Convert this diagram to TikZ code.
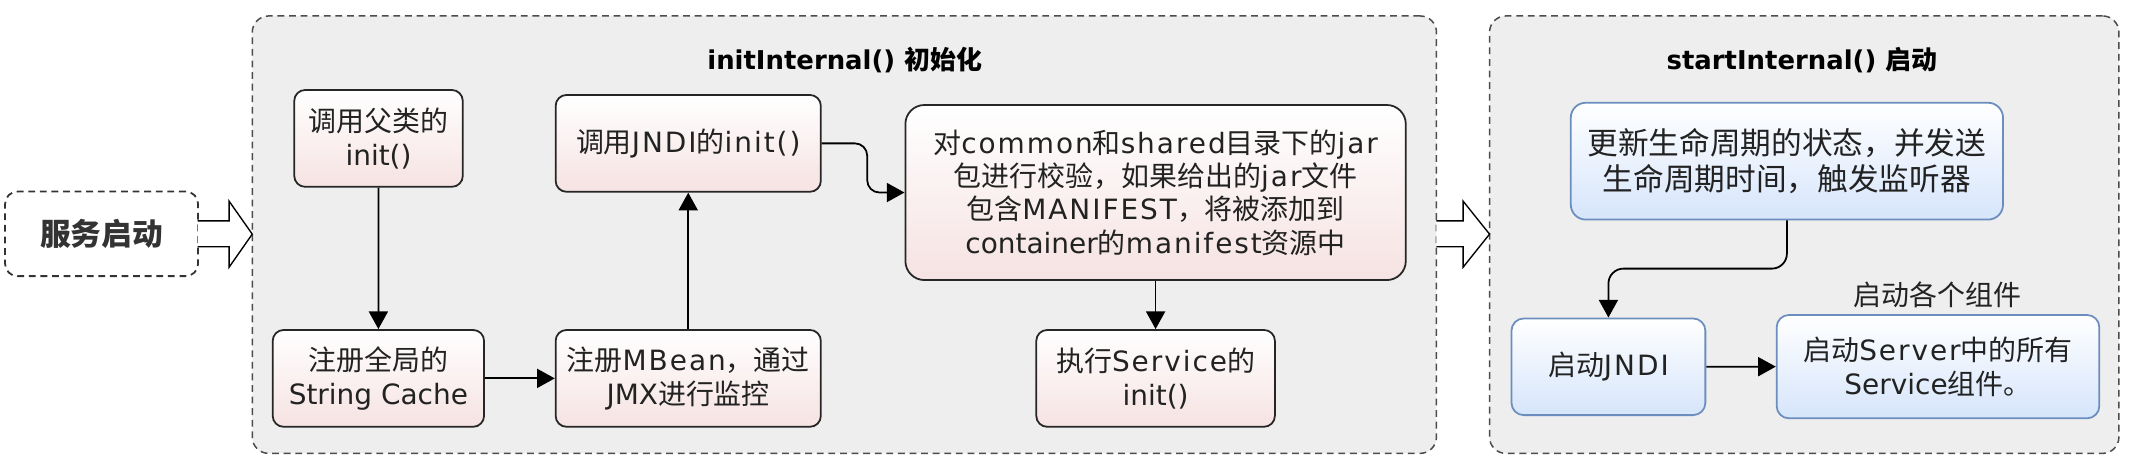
\documentclass[tikz,border=0pt]{standalone}
\usepackage{fontspec}
\setmainfont{DejaVu Sans}
\newfontfamily\cjkfam{Noto Sans CJK SC}
\newfontfamily\latfam[LetterSpace=7]{DejaVu Sans}
\newfontfamily\plainlat{DejaVu Sans}
\XeTeXinterchartokenstate=1
\newXeTeXintercharclass\mycjkcls
\newcount\mycc
\mycc="4E00 \loop\XeTeXcharclass\mycc=\mycjkcls \ifnum\mycc<"9FFF \advance\mycc by 1 \repeat
\mycc="3000 \loop\XeTeXcharclass\mycc=\mycjkcls \ifnum\mycc<"303F \advance\mycc by 1 \repeat
\mycc="FF00 \loop\XeTeXcharclass\mycc=\mycjkcls \ifnum\mycc<"FFEF \advance\mycc by 1 \repeat
\XeTeXinterchartoks 0 \mycjkcls = {\cjkfam}
\XeTeXinterchartoks 4095 \mycjkcls = {\cjkfam}
\XeTeXinterchartoks \mycjkcls 0 = {\latfam}
\XeTeXinterchartoks \mycjkcls 4095 = {\latfam}
\usetikzlibrary{arrows.meta}
\definecolor{pinkbot}{RGB}{246,226,226}
\definecolor{bluebot}{RGB}{214,229,251}
\definecolor{blueline}{RGB}{108,142,191}
\definecolor{groupfill}{RGB}{238,238,238}
\definecolor{txt}{RGB}{34,34,34}
\newcommand{\nodefnt}{\fontsize{20.5}{24.5}\selectfont}
\newcommand{\bigfnt}{\fontsize{22.5}{26}\selectfont}
\newcommand{\titlefnt}{\fontsize{19}{24}\selectfont\bfseries}
\begin{document}
\begin{tikzpicture}[x=1pt,y=-1pt,
  group/.style={draw=black!70, dash pattern=on 5pt off 3.5pt, line width=1.1pt,
    fill=groupfill, rounded corners=12pt, inner sep=0pt},
  startbox/.style={draw=black!80, dash pattern=on 5pt off 3.5pt, line width=1.3pt,
    fill=white, rounded corners=9pt, inner sep=0pt, font=\bigfnt\bfseries, text=black!80},
  pinkbox/.style={draw=black!85, line width=1.3pt, top color=white, bottom color=pinkbot,
    rounded corners=8pt, align=center, inner sep=0pt, font=\nodefnt, text=txt},
  bluebox/.style={draw=blueline, line width=1.3pt, top color=white, bottom color=bluebot,
    rounded corners=9pt, align=center, inner sep=0pt, font=\nodefnt, text=txt},
  conn/.style={-{Triangle[length=13pt,width=14pt]}, line width=1.3pt, black},
  hollow/.style={draw=black, line width=1pt},
  grouptitle/.style={font=\titlefnt, text=black, inner sep=0pt},
  plainlabel/.style={font=\nodefnt, text=txt, inner sep=0pt}
]
\useasboundingbox (0,0) rectangle (1568,348);
\fill[white] (0,0) rectangle (1568,348);

% groups
\node[group, minimum width=868.5pt, minimum height=320.8pt] (g1) at (619.25,172.1) {};
\node[group, minimum width=461.6pt, minimum height=320.8pt] (g2) at (1323.2,172.1) {};
\node[grouptitle] (t1) at (619.5,44) {initInternal() 初始化};
\node[grouptitle] (t2) at (1321.5,44) {startInternal() 启动};

% start
\node[startbox, minimum width=141.5pt, minimum height=62pt] (start) at (74.5,171.5) {服务启动};

% hollow arrows
\fill[white] (145,162) -- (168,162) -- (168,147.5) -- (185,171.7) -- (168,196) -- (168,181) -- (145,181) -- cycle;
\draw[hollow] (145,162) -- (168,162) -- (168,147.5) -- (185,171.7) -- (168,196) -- (168,181) -- (145,181);
\fill[white] (1053.5,162) -- (1073,162) -- (1073,147.5) -- (1092.4,171.7) -- (1073,196) -- (1073,181) -- (1053.5,181) -- cycle;
\draw[hollow] (1053.5,162) -- (1073,162) -- (1073,147.5) -- (1092.4,171.7) -- (1073,196) -- (1073,181) -- (1053.5,181);

% init nodes
\node[pinkbox, minimum width=123.6pt, minimum height=71pt] (A) at (277.6,101.5) {调用父类的\\init()};
\node[pinkbox, minimum width=155pt, minimum height=71pt] (B) at (277.5,277.5) {注册全局的\\{\plainlat String Cache}};
\node[pinkbox, minimum width=194.5pt, minimum height=71pt] (C) at (504.75,277.5) {注册MBean，通过\\JMX进行监控};
\node[pinkbox, minimum width=194.5pt, minimum height=71pt] (D) at (504.75,105.15) {调用JNDI的init()};
\node[pinkbox, rounded corners=14pt, minimum width=367pt, minimum height=128.4pt] (E) at (847.5,141.2)
  {对common和shared目录下的jar\\包进行校验，如果给出的jar文件\\包含MANIFEST，将被添加到\\container的manifest资源中};
\node[pinkbox, minimum width=175pt, minimum height=71pt] (F) at (847.5,277.5) {执行Service的\\init()};

% start nodes
\node[bluebox, rounded corners=11pt, font=\bigfnt, minimum width=317pt, minimum height=85.7pt] (G) at (1310.5,118.2)
  {更新生命周期的状态，并发送\\生命周期时间，触发监听器};
\node[bluebox, minimum width=142.2pt, minimum height=70.9pt] (H) at (1179.6,269) {启动JNDI};
\node[bluebox, minimum width=236.6pt, minimum height=75.8pt] (I) at (1421.3,268.9) {启动Server中的所有\\Service组件。};
\node[plainlabel] (lbl) at (1421,216) {启动各个组件};

% connectors
\draw[conn] (A.south) -- (B.north);
\draw[conn] (B.east) -- (C.west);
\draw[conn] (C.north) -- (D.south);
\coordinate (de1) at (636,105.15);
\coordinate (de2) at (636,141.2);
\draw[conn, rounded corners=9pt] (D.east) -- (de1) -- (de2) -- (E.west);
\draw[conn] (E.south) -- (F.north);
\coordinate (gh1) at (1310.5,197);
\coordinate (gh2) at (1179.6,197);
\draw[conn, rounded corners=11pt] (G.south) -- (gh1) -- (gh2) -- (H.north);
\draw[conn] (H.east) -- (I.west);
\end{tikzpicture}
\end{document}
